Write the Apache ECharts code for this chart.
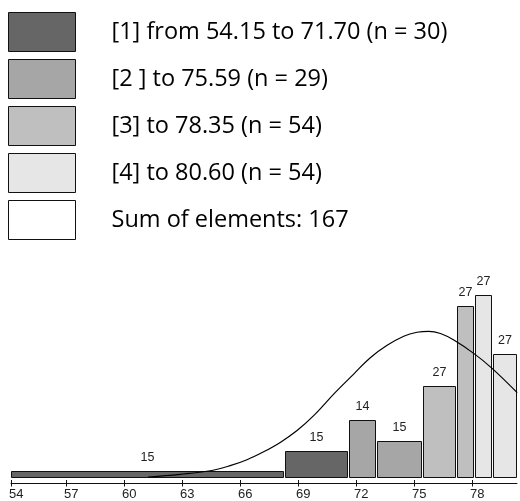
<!DOCTYPE html>
<html>
<head>
<meta charset="utf-8">
<script src="https://cdn.jsdelivr.net/npm/echarts@6/dist/echarts.min.js"></script>
<style>html,body{margin:0;padding:0;background:#fff;}#c{width:520px;height:501px;}</style>
</head>
<body>
<div id="c"></div>
<script>
// Legend / group names
const groupNames = [
  '[1] from 54.15 to 71.70 (n = 30)',
  '[2 ] to 75.59 (n = 29)',
  '[3] to 78.35 (n = 54)',
  '[4] to 80.60 (n = 54)'
];
const sumName = 'Sum of elements: 167';
const groupColors = ['#666666', '#a6a6a6', '#bfbfbf', '#e6e6e6'];

// Histogram bins (edges), counts, densities (heights read)
const binEdges = [54.15, 68.35, 71.62, 73.07, 75.45, 77.23, 78.18, 79.08, 80.37];
const binCounts = [15, 15, 14, 15, 27, 27, 27, 27];
const binDensity = [0.0058, 0.0266, 0.0579, 0.0367, 0.0919, 0.1730, 0.1835, 0.1242];
const binGroup = [0, 0, 1, 1, 2, 2, 3, 3];

// Density curve samples
const curveX = [61.24, 62.90, 64.46, 65.49, 66.36, 67.22, 68.08, 68.95, 69.81, 70.93, 71.88, 72.74, 73.61, 74.47, 75.16, 75.76, 76.37, 77.06, 78.09, 79.04, 80.34];
const curveY = [0.0000, 0.0027, 0.0064, 0.0115, 0.0175, 0.0255, 0.0350, 0.0470, 0.0620, 0.0855, 0.1040, 0.1205, 0.1330, 0.1422, 0.1462, 0.1472, 0.1450, 0.1384, 0.1249, 0.1098, 0.0852];

// Axis ticks
const tickValues = [54.15, 57, 60, 63, 66, 69, 72, 75, 78];

const xMin = 54.15, xMax = 80.33;

const chart = echarts.init(document.getElementById('c'), null, {renderer: 'canvas'});

function renderBar(color) {
  return function (params, api) {
    const lo = api.value(0), hi = api.value(1), d = api.value(2), c = api.value(3);
    const p0 = api.coord([lo, 0]);
    const p1 = api.coord([hi, d]);
    const x0 = Math.round(p0[0]) + 0.5;
    const x1 = Math.round(p1[0]) - 1.5;
    const yb = Math.round(p0[1]) + 0.5;
    const yt = Math.round(p1[1]) + 0.5;
    return {
      type: 'group',
      children: [
        {type: 'rect', shape: {x: x0, y: yt, width: x1 - x0, height: yb - yt},
         style: {fill: color, stroke: '#111', lineWidth: 1}},
        {type: 'text', style: {text: String(c), x: (x0 + x1) / 2, y: yt - 7,
          align: 'center', verticalAlign: 'bottom',
          font: '12.5px "Liberation Sans", Arial, sans-serif', fill: '#222'}}
      ]
    };
  };
}

const series = groupNames.map((name, g) => {
  const data = [];
  for (let i = 0; i < binCounts.length; i++) {
    if (binGroup[i] === g) data.push([binEdges[i], binEdges[i + 1], binDensity[i], binCounts[i]]);
  }
  return {
    name: name, type: 'custom', renderItem: renderBar(groupColors[g]),
    itemStyle: {color: groupColors[g], borderColor: '#111', borderWidth: 1},
    encode: {x: [0, 1], y: 2}, data: data, silent: true, z: 2
  };
});
series.push({
  name: sumName, type: 'custom', renderItem: function () { return null; },
  itemStyle: {color: '#ffffff', borderColor: '#111', borderWidth: 1}, data: []
});
series.push({
  name: 'density', type: 'line', xAxisIndex: 0,
  data: curveX.map((x, i) => [x, curveY[i]]),
  smooth: 0.4, showSymbol: false, symbol: 'none', clip: false,
  lineStyle: {color: '#000', width: 1.2}, silent: true, z: 5
});

const tickFmt = v => String(Math.round(v));

chart.setOption({
  animation: false,
  backgroundColor: '#fff',
  legend: {
    data: groupNames.concat([sumName]),
    orient: 'vertical', left: 8, top: 12, padding: 0,
    itemWidth: 67, itemHeight: 39, itemGap: 7,
    icon: 'rect', selectedMode: false,
    itemStyle: {borderColor: '#111', borderWidth: 1},
    textStyle: {fontFamily: '"Open Sans", Lato, sans-serif', fontSize: 23.5, color: '#000', padding: [0, 0, 0, 31]}
  },
  grid: {left: 11, right: 3, top: 280, bottom: 18},
  xAxis: [{
    type: 'value', min: xMin, max: xMax, position: 'bottom',
    axisLine: {show: true, onZero: false, lineStyle: {color: '#111', width: 1}},
    axisTick: {show: true, length: 3.5, customValues: tickValues, lineStyle: {color: '#111'}},
    axisLabel: {show: true, customValues: tickValues, formatter: tickFmt, align: 'left', margin: 5,
      fontFamily: '"Liberation Sans", Arial, sans-serif', fontSize: 13, color: '#222', padding: [0, 0, 0, -2]},
    splitLine: {show: false}
  }, {
    type: 'value', min: xMin, max: xMax, position: 'bottom', gridIndex: 0,
    axisLine: {show: false, onZero: false},
    axisTick: {show: true, inside: true, length: 3, customValues: tickValues, lineStyle: {color: '#111'}},
    axisLabel: {show: false}, splitLine: {show: false}
  }],
  yAxis: {type: 'value', min: -0.006, max: 0.199, show: false, splitLine: {show: false}},
  series: series
});
</script>
</body>
</html>
